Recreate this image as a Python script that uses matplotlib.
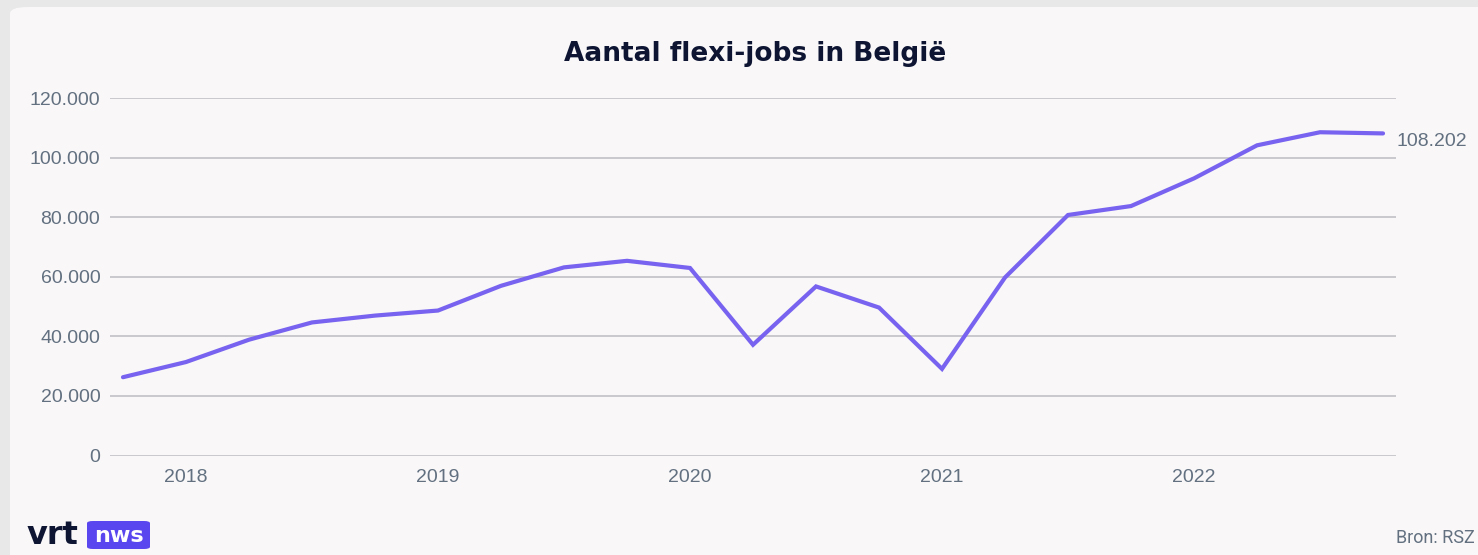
"""Aantal flexi-jobs in België, per kwartaal (bron: RSZ), in VRT NWS style."""
import matplotlib
import numpy as np

matplotlib.use("Agg")
import matplotlib.pyplot as plt
from matplotlib.patches import FancyBboxPatch

QUARTERS = [
    "2017-Q4",
    "2018-Q1", "2018-Q2", "2018-Q3", "2018-Q4",
    "2019-Q1", "2019-Q2", "2019-Q3", "2019-Q4",
    "2020-Q1", "2020-Q2", "2020-Q3", "2020-Q4",
    "2021-Q1", "2021-Q2", "2021-Q3", "2021-Q4",
    "2022-Q1", "2022-Q2", "2022-Q3", "2022-Q4",
]
FLEXI_JOBS = [
    26300,
    31400, 38900, 44700, 47000,
    48700, 57000, 63200, 65400,
    63000, 37200, 56800, 49700,
    29100, 59800, 80800, 83800,
    93100, 104200, 108600, 108202,
]
Y_TICKS = [0, 20000, 40000, 60000, 80000, 100000, 120000]

LINE_COLOR = "#7763ef"
GRID_COLOR = "#c6c6ca"
TEXT_GRAY = "#627080"
NAVY = "#0d1533"
CARD = "#f9f7f8"


def nl_number(v):
    # Dutch thousands separator: 108202 -> 108.202
    return f"{v:,.0f}".replace(",", ".")


def main():
    W, H = 1478, 555
    fig = plt.figure(figsize=(W / 100, H / 100), dpi=100, facecolor="#e8e8e8")

    # the white-ish card behind everything
    card = FancyBboxPatch((10 / W, -0.05), 1.2, 1 - 7 / H + 0.05, boxstyle="round,pad=0,rounding_size=0.012",
                          transform=fig.transFigure, fc=CARD, ec="none", zorder=-10)
    fig.patches.append(card)

    ax = fig.add_axes([110 / W, 1 - 455.5 / H, 1286 / W, (455.5 - 98.3) / H])
    ax.set_facecolor("none")
    ax.set_zorder(1)

    x = np.arange(len(QUARTERS))
    ax.plot(x, FLEXI_JOBS, color=LINE_COLOR, linewidth=3.0, solid_capstyle="round",
            solid_joinstyle="miter", zorder=3)

    ax.set_xlim(-0.206, 20.206)
    ax.set_ylim(0, 120000)
    ax.set_yticks(Y_TICKS)
    ax.set_yticklabels([nl_number(v) for v in Y_TICKS])

    year_idx = [i for i, q in enumerate(QUARTERS) if q.endswith("Q1")]
    ax.set_xticks(year_idx)
    ax.set_xticklabels([QUARTERS[i][:4] for i in year_idx])

    ax.grid(axis="y", color=GRID_COLOR, linewidth=1.3)
    ax.set_axisbelow(True)
    for s in ax.spines.values():
        s.set_visible(False)
    ax.tick_params(axis="y", length=0, pad=7, labelsize=14, labelcolor=TEXT_GRAY)
    ax.tick_params(axis="x", length=0, pad=9.5, labelsize=14, labelcolor=TEXT_GRAY)
    for lab in ax.get_xticklabels() + ax.get_yticklabels():
        lab.set_fontfamily("Liberation Sans")

    ax.annotate(nl_number(FLEXI_JOBS[-1]), xy=(x[-1], FLEXI_JOBS[-1]), xytext=(10, -6),
                textcoords="offset points", ha="left", va="center", fontsize=14,
                color=TEXT_GRAY, family="Liberation Sans", annotation_clip=False)

    fig.text(755 / W, 1 - 54 / H, "Aantal flexi-jobs in België", ha="center", va="center",
             fontsize=19, fontweight="bold", color=NAVY)

    # footer: logo left, source right
    fig.text(27 / W, 1 - 536 / H, "vrt", ha="left", va="center", fontsize=23,
             fontweight="heavy", color=NAVY)
    badge = FancyBboxPatch((87 / W, 1 - 549 / H), 63 / W, 28 / H,
                           boxstyle="round,pad=0,rounding_size=0.004", transform=fig.transFigure,
                           fc="#5a46ee", ec="none")
    fig.patches.append(badge)
    fig.text(118.5 / W, 1 - 536 / H, "nws", ha="center", va="center", fontsize=16,
             fontweight="bold", color="white")
    fig.text(1396 / W, 1 - 538 / H, "Bron: RSZ", ha="left", va="center", fontsize=13,
             color=TEXT_GRAY, family="Roboto")

    fig.savefig("out.png", dpi=100, facecolor=fig.get_facecolor())


if __name__ == "__main__":
    main()
